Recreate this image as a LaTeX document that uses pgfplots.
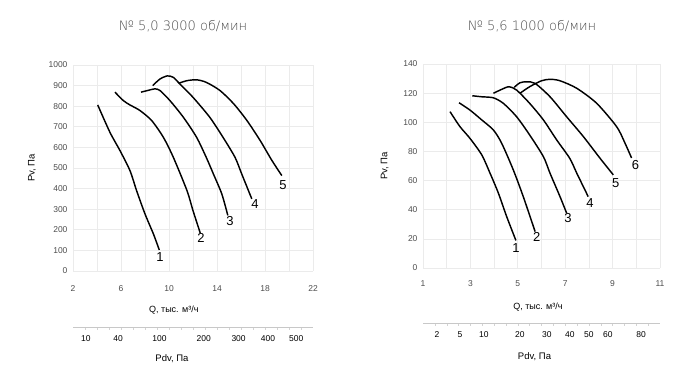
\documentclass[border=0pt]{standalone}
\usepackage{fontspec}
\setmainfont{Liberation Sans}
\newfontfamily\titlefont{DejaVu Sans ExtraLight}
\usepackage{pgfplots}
\pgfplotsset{compat=1.18}
\definecolor{gridc}{HTML}{EBEBEB}
\definecolor{tickc}{HTML}{4D4D4D}
\pgfplotsset{
  mainax/.style={
    scale only axis,
    axis line style={draw=none},
    tick style={draw=none},
    grid=major,
    grid style={gridc, line width=0.7pt},
    /pgf/number format/assume math mode=true,
    /pgf/number format/1000 sep={},
    ticklabel style={font=\fontsize{8.5}{9}\selectfont, text=tickc},
    yticklabel style={xshift=-2pt},
    clip=false,
  },
  crv/.style={black, line width=1.45pt, smooth, tension=0.45},
  pdvax/.style={
    scale only axis, height=1pt,
    axis x line=bottom, hide y axis,
    ymin=0, ymax=1,
    axis line style={gridc!85!black, line width=0.6pt, -},
    major tick length=0pt,
    minor tick length=3pt,
    tick align=outside,
    minor tick style={gridc!90!black, line width=0.4pt},
    /pgf/number format/assume math mode=true,
    xticklabel style={font=\fontsize{8.5}{9}\selectfont, text=black, yshift=-5pt},
  },
}
\newcommand{\lbl}{\fontsize{13}{15}\selectfont}
\begin{document}
\begin{tikzpicture}[x=1pt,y=1pt]
\useasboundingbox (0,0) rectangle (700,382);
\node[font=\titlefont\fontsize{13}{15}\selectfont, text=black!70] at (183,356) {№ 5,0 3000 об/мин};
\node[font=\titlefont\fontsize{13}{15}\selectfont, text=black!70] at (532,356) {№ 5,6 1000 об/мин};
% ---------- left chart
\begin{axis}[mainax, at={(73pt,111pt)}, anchor=south west, width=240pt, height=206pt,
  xmin=2, xmax=22, ymin=0, ymax=1000,
  xtick={2,4,...,22}, xticklabels={2,,6,,10,,14,,18,,22},
  ytick={0,100,...,1000},
  xticklabel style={yshift=-11pt},
  ylabel={Pv, Па}, ylabel style={font=\fontsize{9.5}{10}\selectfont, at={(axis description cs:-0.14,0.5)}, anchor=south},
  xlabel={Q, тыс. м³/ч}, xlabel style={font=\fontsize{9}{10}\selectfont, at={(axis description cs:0.42,-0.19)}, anchor=center},
]
\addplot[crv] coordinates {(4.06,806)(5.08,673)(5.92,584)(6.75,487)(7.3,390)(8.0,277)(8.7,180)(9.19,102)};
\addplot[crv] coordinates {(5.5,868)(6.2,827)(6.75,806)(7.58,779)(8.56,730)(9.53,649)(10.36,552)(11.5,390)(12.0,293)(12.6,185)};
\addplot[crv] coordinates {(7.67,868)(8.2,876)(8.83,884)(9.25,876)(10.08,827)(11.2,746)(12.3,649)(13.1,552)(13.7,471)(14.4,374)(14.9,270)};
\addplot[crv] coordinates {(8.64,900)(9.25,932)(9.86,947)(10.36,940)(10.9,908)(12.0,843)(13.4,746)(14.5,649)(15.5,552)(16.06,471)(16.9,350)};
\addplot[crv] coordinates {(10.8,911)(11.5,924)(12.3,928)(13.1,916)(14.25,876)(15.4,811)(16.5,730)(17.6,633)(18.55,539)(19.4,463)};
\node[font=\lbl] at (axis cs:9.25,70) {1};
\node[font=\lbl] at (axis cs:12.67,162) {2};
\node[font=\lbl] at (axis cs:15.08,241) {3};
\node[font=\lbl] at (axis cs:17.17,327) {4};
\node[font=\lbl] at (axis cs:19.5,419) {5};
\end{axis}
\begin{axis}[pdvax, at={(73pt,55pt)}, anchor=south west, width=240pt,
  xmin=2, xmax=22,
  xtick={3.08,5.75,9.2,12.9,15.8,18.25,20.6},
  xticklabels={10,40,100,200,300,400,500},
  minor xtick={3,4,...,21},
]
\addplot[draw=none] coordinates {(2,0)(22,0)};
\end{axis}
\node[font=\fontsize{9.5}{10}\selectfont] at (172,23) {Pdv, Па};
% ---------- right chart
\begin{axis}[mainax, at={(423pt,114pt)}, anchor=south west, width=237pt, height=204pt,
  xmin=1, xmax=11, ymin=0, ymax=140,
  xtick={1,2,...,11}, xticklabels={1,,3,,5,,7,,9,,11},
  ytick={0,20,...,140},
  xticklabel style={yshift=-9pt},
  ylabel={Pv, Па}, ylabel style={font=\fontsize{9.5}{10}\selectfont, at={(axis description cs:-0.13,0.5)}, anchor=south},
  xlabel={Q, тыс. м³/ч}, xlabel style={font=\fontsize{9}{10}\selectfont, at={(axis description cs:0.485,-0.19)}, anchor=center},
]
\addplot[crv] coordinates {(2.14,107.3)(2.56,97)(2.98,89)(3.48,77.6)(3.83,65)(4.18,51.4)(4.53,35.3)(4.92,18.9)};
\addplot[crv] coordinates {(2.52,113.4)(2.98,108.4)(3.48,101.6)(3.97,94.7)(4.32,85.6)(4.81,67.3)(5.23,49)(5.73,25)};
\addplot[crv] coordinates {(3.08,118.2)(3.48,117.5)(3.97,116.8)(4.39,113)(4.95,103.8)(5.5,91.3)(6.08,76.4)(6.36,65)(6.78,49)(7.06,37.7)};
\addplot[crv] coordinates {(3.97,119.9)(4.32,122.6)(4.63,124.4)(4.95,122.1)(5.5,113)(6.08,101.6)(6.64,87.9)(7.19,75.3)(7.49,65)(7.97,49)};
\addplot[crv] coordinates {(4.85,124)(5.09,127.1)(5.38,127.8)(5.73,126.7)(6.36,117.5)(7.06,103.8)(7.77,90.1)(8.47,75.3)(9.03,63.9)};
\addplot[crv] coordinates {(5.09,119.9)(5.5,124.4)(6.0,128.5)(6.36,129.5)(6.78,128.5)(7.49,123.3)(8.33,113)(9.17,97)(9.5,86.5)(9.8,75.5)};
\node[font=\lbl] at (axis cs:4.92,13.9) {1};
\node[font=\lbl] at (axis cs:5.8,21.2) {2};
\node[font=\lbl] at (axis cs:7.12,34.5) {3};
\node[font=\lbl] at (axis cs:8.05,44.7) {4};
\node[font=\lbl] at (axis cs:9.13,58.6) {5};
\node[font=\lbl] at (axis cs:9.97,70.8) {6};
\end{axis}
\begin{axis}[pdvax, at={(423pt,59pt)}, anchor=south west, width=237pt,
  xmin=1, xmax=11,
  xtick={1.59,2.56,3.57,5.09,6.23,7.2,8.0,8.8,10.2},
  xticklabels={2,5,10,20,30,40,50,60,80},
  minor xtick={1.5,2,...,10.5},
]
\addplot[draw=none] coordinates {(1,0)(11,0)};
\end{axis}
\node[font=\fontsize{9.5}{10}\selectfont] at (534.5,25) {Pdv, Па};
\end{tikzpicture}
\end{document}
